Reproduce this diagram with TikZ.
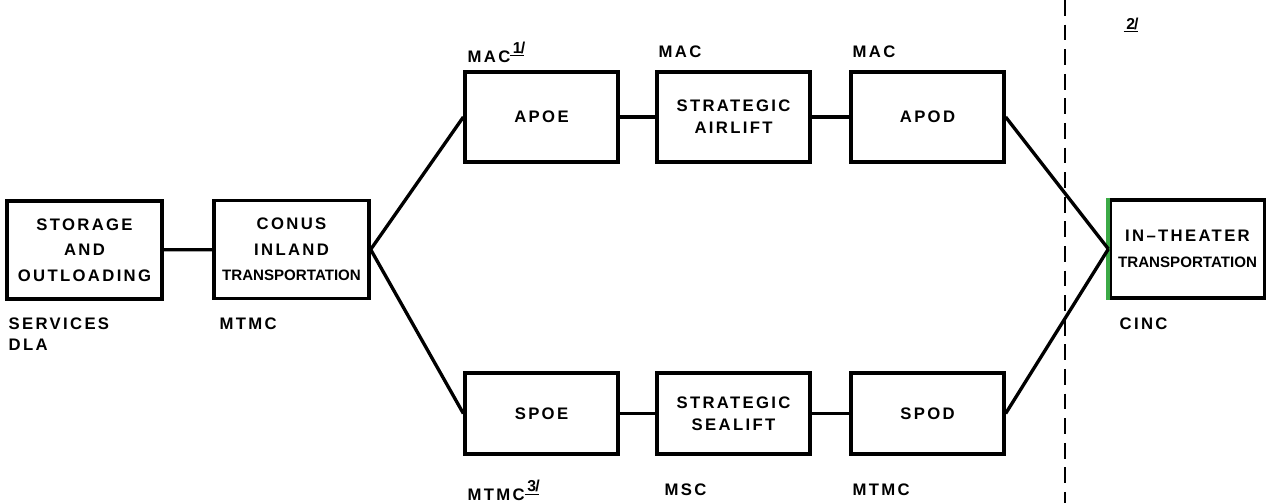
\documentclass[tikz,border=0pt]{standalone}
\usepackage{fontspec}
\setmainfont{Liberation Sans}
\newfontfamily\spaced{Liberation Sans}[LetterSpace=14]
\newfontfamily\tight{Liberation Sans}[LetterSpace=0]
\newcommand{\fnmark}[1]{\raisebox{5pt}{\fontsize{9}{9}\selectfont\underline{\,#1\,}\kern-2pt/}}
\definecolor{edgegreen}{RGB}{60,170,70}
\begin{document}
\begin{tikzpicture}[x=0.02cm, y=-0.02cm, line width=1.9pt,
    box/.style={rectangle, draw, inner sep=0pt, align=center,
      font=\spaced\bfseries\fontsize{9.5}{14.6}\selectfont},
    tall/.style={box, minimum width=3.1cm, minimum height=1.96cm},
    upper/.style={box, minimum width=3.06cm, minimum height=1.8cm},
    lower/.style={box, minimum width=3.06cm, minimum height=1.62cm},
    lbl/.style={anchor=west, inner sep=0pt, font=\spaced\bfseries\fontsize{9.5}{13}\selectfont}]
    \useasboundingbox (0,0) rectangle (1266,503);
    \draw[line width=1.3pt, dash pattern=on 9pt off 5pt] (1065,0) -- (1065,503);
    \node[tall] (store) at (84.5,250) {STORAGE\\AND\\OUTLOADING};
    \node[tall] (conus) at (291.5,249.5) {CONUS\\INLAND\\{\tight\fontsize{8.6}{13}\selectfont TRANSPORTATION}};
    \node[upper] (apoe) at (541.5,117) {APOE};
    \node[upper] (airlift) at (733.5,117) {STRATEGIC\\[-2pt]AIRLIFT};
    \node[upper] (apod) at (927.5,117) {APOD};
    \node[lower] (spoe) at (541.5,413.5) {SPOE};
    \node[lower] (sealift) at (733.5,413.5) {STRATEGIC\\[-2pt]SEALIFT};
    \node[lower] (spod) at (927.5,413.5) {SPOD};
    \node[tall] (theater) at (1187.5,249) {IN\textendash THEATER\\{\tight\fontsize{8.6}{13}\selectfont TRANSPORTATION}};
    \draw[edgegreen, line width=2.2pt] (theater.north west) -- (theater.south west);
    \draw (store) -- (conus);
    \draw (conus.east) -- (apoe.west);
    \draw (conus.east) -- (spoe.west);
    \draw (apoe) -- (airlift) -- (apod);
    \draw (spoe) -- (sealift) -- (spod);
    \draw (apod.east) -- (theater.west);
    \draw (spod.east) -- (theater.west);
    \node[lbl] (macA) at (466,52) {MAC\fnmark{1}};
    \node[lbl] (macB) at (657,52) {MAC};
    \node[lbl] (macC) at (851,52) {MAC};
    \node[lbl] (note2) at (1122,28) {\fnmark{2}};
    \node[lbl] (svc) at (7,324) {SERVICES};
    \node[lbl] (dla) at (7,345) {DLA};
    \node[lbl] (mtmcA) at (218,324) {MTMC};
    \node[lbl] (cinc) at (1118,324) {CINC};
    \node[lbl] (mtmcB) at (466,490) {MTMC\fnmark{3}};
    \node[lbl] (msc) at (663,490) {MSC};
    \node[lbl] (mtmcC) at (851,490) {MTMC};
\end{tikzpicture}
\end{document}
